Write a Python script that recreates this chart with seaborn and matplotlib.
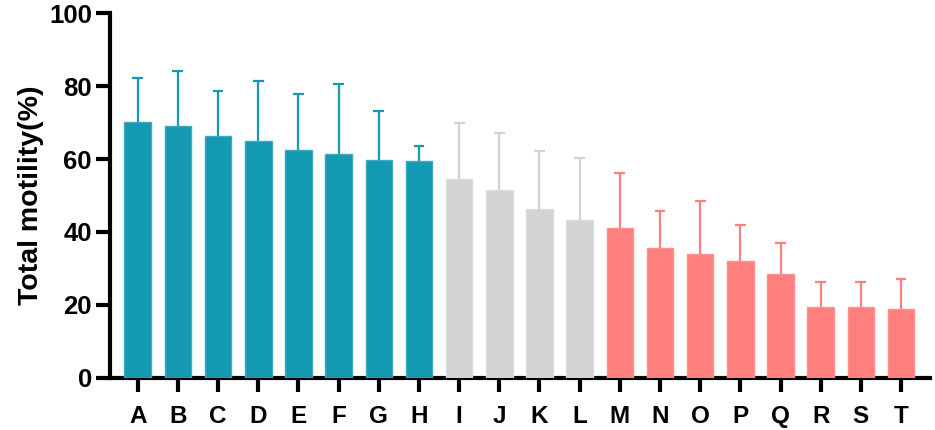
import matplotlib
matplotlib.use("Agg")
import matplotlib.pyplot as plt
import seaborn as sns
import pandas as pd
import numpy as np

categories = list("ABCDEFGHIJKLMNOPQRST")
means = [70.3, 69.2, 66.4, 65.0, 62.5, 61.5, 59.7, 59.5,
         54.5, 51.6, 46.4, 43.2,
         41.0, 35.5, 34.0, 32.0, 28.5, 19.5, 19.5, 18.9]
upper = [82.3, 84.2, 78.8, 81.5, 77.9, 80.5, 73.2, 63.6,
         69.9, 67.2, 62.3, 60.4,
         56.2, 45.7, 48.6, 41.8, 37.0, 26.3, 26.3, 27.1]
groups = ["high"] * 8 + ["mid"] * 4 + ["low"] * 8
palette = {"high": "#1399B2", "mid": "#D3D3D3", "low": "#FF7F7F"}
edge = {"high": "#3DAAC0", "mid": "#DCDCDC", "low": "#FF9090"}

df = pd.DataFrame({"cat": categories, "mean": means, "upper": upper, "group": groups})

sns.set_style("ticks")
plt.rcParams["font.family"] = ["Liberation Sans", "DejaVu Sans"]
plt.rcParams["font.weight"] = "bold"

fig = plt.figure(figsize=(9.35, 4.30), dpi=100)
ax = fig.add_axes([110 / 935, 1 - 377.7 / 430, 820 / 935, (377.7 - 13.3) / 430])

sns.barplot(data=df, x="cat", y="mean", hue="group", palette=palette, dodge=False,
            saturation=1, width=0.66, legend=False, ax=ax, zorder=3)

for p in ax.patches:
    fc = p.get_facecolor()
    p.set_linewidth(1.0)
    for g, c in palette.items():
        if np.allclose(matplotlib.colors.to_rgba(c), fc, atol=0.01):
            p.set_edgecolor(edge[g])

cap_half = 0.135
for i, row in df.iterrows():
    col = palette[row["group"]]
    ax.vlines(i, row["mean"], row["upper"], colors=col, linewidth=1.6, zorder=2)
    ax.hlines(row["upper"], i - cap_half, i + cap_half, colors=col, linewidth=1.6, zorder=2)

ax.set_ylim(0, 100)
ax.set_xlim(-0.69, 19.72)
ax.set_yticks([0, 20, 40, 60, 80, 100])
ax.set_xlabel("")
ax.set_ylabel("Total motility(%)", fontsize=20.5, fontweight="bold", labelpad=4,
              color="black")
sns.despine(ax=ax)
for s in ["left", "bottom"]:
    ax.spines[s].set_linewidth(3)
    ax.spines[s].set_color("black")
ax.tick_params(axis="both", width=3, length=10, color="black", labelcolor="black")
ax.tick_params(axis="y", labelsize=18.5, pad=3)
ax.tick_params(axis="x", labelsize=17.5, pad=10)
for lab in ax.get_xticklabels() + ax.get_yticklabels():
    lab.set_fontweight("bold")

fig.savefig("out.png", dpi=100)
